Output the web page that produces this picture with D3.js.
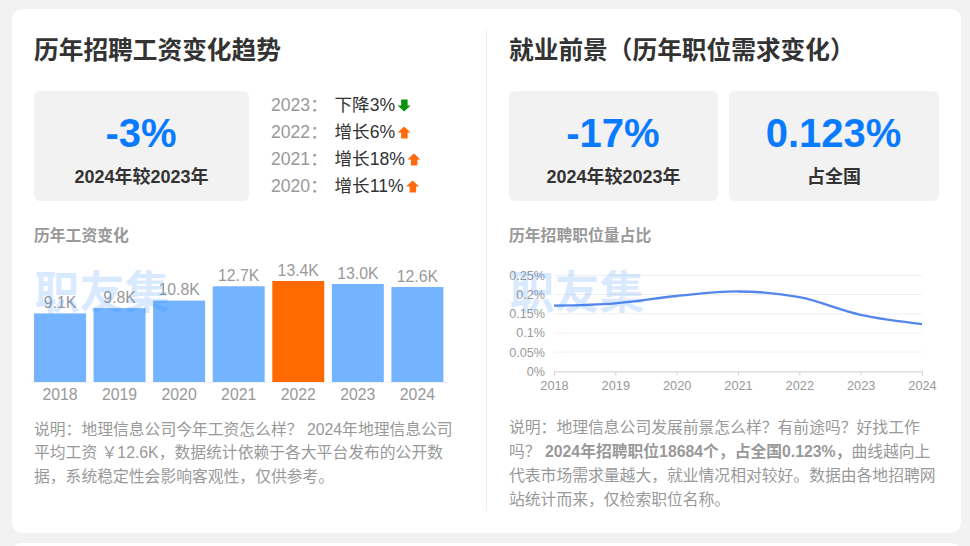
<!DOCTYPE html>
<html><head><meta charset="utf-8">
<script src="https://cdn.jsdelivr.net/npm/d3@7"></script>
<style>
html,body{margin:0;padding:0;background:#f2f2f2;overflow:hidden}
svg{display:block}
text{font-family:"Liberation Sans","Noto Sans CJK SC",sans-serif}
</style></head><body>
<svg id="c" width="970" height="546"></svg>
<script>
const years=["2018","2019","2020","2021","2022","2023","2024"];
const salary=[9.1,9.8,10.8,12.7,13.4,13.0,12.6];
const salaryLabels=["9.1K","9.8K","10.8K","12.7K","13.4K","13.0K","12.6K"];
const share=[0.171,0.177,0.196,0.208,0.193,0.147,0.123];
const shareTicks=[0,0.05,0.1,0.15,0.2,0.25];
const trendYears=["2023","2022","2021","2020"];
const trendTexts=["下降3%","增长6%","增长18%","增长11%"];
const trendUp=[false,true,true,true];
const leftDesc=["说明：地理信息公司今年工资怎么样？ 2024年地理信息公司","平均工资 ￥12.6K，数据统计依赖于各大平台发布的公开数","据，系统稳定性会影响客观性，仅供参考。"];

const GREY="#999",DARK="#333",BLUE="#0a7bff",BOX="#f2f2f2",FS=15.8;
const svg=d3.select("#c");
const txt=(x,y,s,size,fill,weight,anchor)=>svg.append("text").attr("x",x).attr("y",y).text(s)
  .attr("font-size",size).attr("fill",fill).attr("font-weight",weight||"normal").attr("text-anchor",anchor||"start");

svg.append("rect").attr("x",12).attr("y",9).attr("width",949).attr("height",524).attr("rx",10).attr("fill","#fff");
svg.append("rect").attr("x",12).attr("y",543).attr("width",949).attr("height",30).attr("rx",10).attr("fill","#fff");
svg.append("line").attr("x1",486.5).attr("x2",486.5).attr("y1",30).attr("y2",511).attr("stroke","#eeeeee");

txt(34,59,"历年招聘工资变化趋势",24.7,DARK,"bold");
txt(509,59,"就业前景（历年职位需求变化）",24.7,DARK,"bold");

function box(x,w,big,label){
  svg.append("rect").attr("x",x).attr("y",91).attr("width",w).attr("height",110).attr("rx",6).attr("fill",BOX);
  txt(x+w/2-0.5,147,big,40,BLUE,"bold","middle");
  txt(x+w/2,182.5,label,18,DARK,"bold","middle");
}
box(34,215,"-3%","2024年较2023年");
box(509,209,"-17%","2024年较2023年");
box(729,210,"0.123%","占全国");

trendYears.forEach((yr,i)=>{
  const y=111+i*27;
  txt(271,y,yr+"：",17.6,GREY);
  const t=txt(334.5,y,trendTexts[i],17.6,DARK);
  const ax=334.5+t.node().getComputedTextLength()+3, cy=y-5.5, up=trendUp[i];
  const d=up?`M${ax+6} ${cy-6}L${ax+12.5} ${cy}H${ax+9.5}V${cy+6}H${ax+3}V${cy}H${ax-.5}Z`
            :`M${ax+6} ${cy+6}L${ax+12.5} ${cy}H${ax+9.5}V${cy-6}H${ax+3}V${cy}H${ax-.5}Z`;
  svg.append("path").attr("d",d).attr("fill",up?"#ff6a0d":"#0a920a");
});

txt(34,241,"历年工资变化",15.8,GREY,"bold");
txt(509,241,"历年招聘职位量占比",15.8,GREY,"bold");

// Bar chart
const bx=d3.scaleBand().domain(years).range([30.2,447.2]).paddingInner(0.128).paddingOuter(0.064);
const by=d3.scaleLinear().domain([0,13.4]).range([382,281]);
svg.selectAll(".bar").data(salary).join("rect").attr("class","bar")
  .attr("x",(d,i)=>bx(years[i])).attr("width",bx.bandwidth())
  .attr("y",d=>by(d)).attr("height",d=>by(0)-by(d))
  .attr("fill",(d,i)=>years[i]==="2022"?"#ff6a00":"#73b3ff");
svg.selectAll(".bl").data(salary).join("text").attr("class","bl")
  .attr("x",(d,i)=>bx(years[i])+bx.bandwidth()/2).attr("y",d=>by(d)-5.5)
  .attr("text-anchor","middle").attr("font-size",FS).attr("fill",GREY)
  .text((d,i)=>salaryLabels[i]);
const bax=svg.append("g").attr("transform","translate(0,382)").call(d3.axisBottom(bx).tickSize(0).tickPadding(7));
bax.select(".domain").attr("stroke","#f2f2f2");
bax.selectAll("text").attr("font-size",FS).attr("fill",GREY).attr("font-family",null);

// Line chart
const lx=d3.scalePoint().domain(years).range([554,922]);
const ly=d3.scaleLinear().domain([0,0.25]).range([371.3,275.3]);
const yax=svg.append("g").attr("transform","translate(554,0)")
  .call(d3.axisLeft(ly).tickValues(shareTicks).tickFormat(d=>d3.format("~r")(+d.toFixed(2))+"%").tickSize(0).tickPadding(9));
yax.select(".domain").remove();
yax.selectAll("text").attr("font-size",12.6).attr("fill",GREY);
svg.append("g").selectAll("line").data(shareTicks.slice(1)).join("line")
  .attr("x1",554).attr("x2",922).attr("y1",d=>ly(d)).attr("y2",d=>ly(d)).attr("stroke","#f0f0f0");
const xax=svg.append("g").attr("transform","translate(0,371.3)").call(d3.axisBottom(lx).tickSize(4).tickPadding(6).tickSizeOuter(4));
xax.select(".domain").attr("stroke","#d0d0d0");
xax.selectAll("line").attr("stroke","#d0d0d0");
xax.selectAll("text").attr("font-size",12.8).attr("fill",GREY);
svg.append("path").datum(share).attr("fill","none").attr("stroke","#5586ec").attr("stroke-width",2.4)
  .attr("d",d3.line().x((d,i)=>lx(years[i])).y(d=>ly(d)).curve(d3.curveCatmullRom.alpha(0.5)));

// Descriptions
leftDesc.forEach((s,i)=>txt(34,434.5+i*23.8,s,FS,GREY));
txt(509,433,"说明：地理信息公司发展前景怎么样？有前途吗？好找工作",FS,GREY);
const l2=txt(509,457,"吗？ ",FS,GREY);
l2.append("tspan").attr("font-weight","bold").text("2024年招聘职位18684个，占全国0.123%，");
l2.append("tspan").text("曲线越向上");
txt(509,481,"代表市场需求量越大，就业情况相对较好。数据由各地招聘网",FS,GREY);
txt(509,505,"站统计而来，仅检索职位名称。",FS,GREY);

// Watermarks
[34.5,509.5].forEach(x=>txt(x,309,"职友集",45,"#1a7fff","bold").attr("opacity",0.16));
</script></body></html>
